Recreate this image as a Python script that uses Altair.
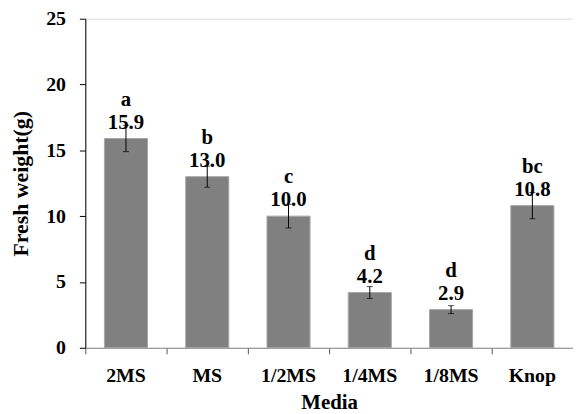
import altair as alt
import pandas as pd

media = ["2MS", "MS", "1/2MS", "1/4MS", "1/8MS", "Knop"]
weights = [15.9, 13.0, 10.0, 4.2, 2.9, 10.8]
errors = [1.0, 0.8, 0.9, 0.45, 0.3, 1.0]
letters = ["a", "b", "c", "d", "d", "bc"]

df = pd.DataFrame({"media": media, "w": weights, "err": errors, "letter": letters})
df["lo"] = df["w"] - df["err"]
df["hi"] = df["w"] + df["err"]

FONT = "Liberation Serif"

x = alt.X("media:N", sort=media, title="Media",
          scale=alt.Scale(paddingInner=0, paddingOuter=0),
          axis=alt.Axis(labelAngle=0, bandPosition=0, tickSize=6, labelPadding=12,
                        domainColor="#888888", tickColor="#555555",
                        labelFont=FONT, labelFontSize=20, labelFontWeight="bold", labelColor="black",
                        titleFont=FONT, titleFontSize=21, titleFontWeight="bold", titleColor="black",
                        titlePadding=6))
y_axis = alt.Axis(values=[0, 5, 10, 15, 20, 25], grid=False, tickSize=6, labelPadding=14,
                  domainColor="black", tickColor="black",
                  labelFont=FONT, labelFontSize=20, labelFontWeight="bold", labelColor="black",
                  titleFont=FONT, titleFontSize=22, titleFontWeight="bold", titleColor="black",
                  titlePadding=13)
yscale = alt.Scale(domain=[0, 25], nice=False)

base = alt.Chart(df)

bars = base.mark_bar(width=alt.RelativeBandSize(0.53), color="#808080",
                     stroke="#a6a6a6", strokeWidth=1).encode(
    x=x,
    y=alt.Y("w:Q", scale=yscale, axis=y_axis, title="Fresh weight(g)"),
)
rules = base.mark_rule(color="black", strokeWidth=1).encode(
    x=alt.X("media:N", sort=media), y="lo:Q", y2="hi:Q")
caps_lo = base.mark_tick(color="black", thickness=1, size=6, orient="horizontal").encode(
    x=alt.X("media:N", sort=media), y="lo:Q")
caps_hi = base.mark_tick(color="black", thickness=1, size=6, orient="horizontal").encode(
    x=alt.X("media:N", sort=media), y="hi:Q")
vals = base.mark_text(font=FONT, fontSize=21, fontWeight="bold", color="black",
                      baseline="alphabetic", dy=-10).encode(
    x=alt.X("media:N", sort=media), y="w:Q", text=alt.Text("w:Q", format=".1f"))
lets = base.mark_text(font=FONT, fontSize=21, fontWeight="bold", color="black",
                      baseline="alphabetic", dy=-33).encode(
    x=alt.X("media:N", sort=media), y="w:Q", text="letter:N")

chart = alt.layer(bars, rules, caps_lo, caps_hi, vals, lets).properties(
    width=492, height=332,
    autosize=alt.AutoSizeParams(type="none"),
    padding={"left": 78, "top": 9, "right": 0, "bottom": 65},
).configure_view(stroke=None).configure(background="white")

chart.save("out.html", embed_options={"renderer": "svg", "actions": False})
